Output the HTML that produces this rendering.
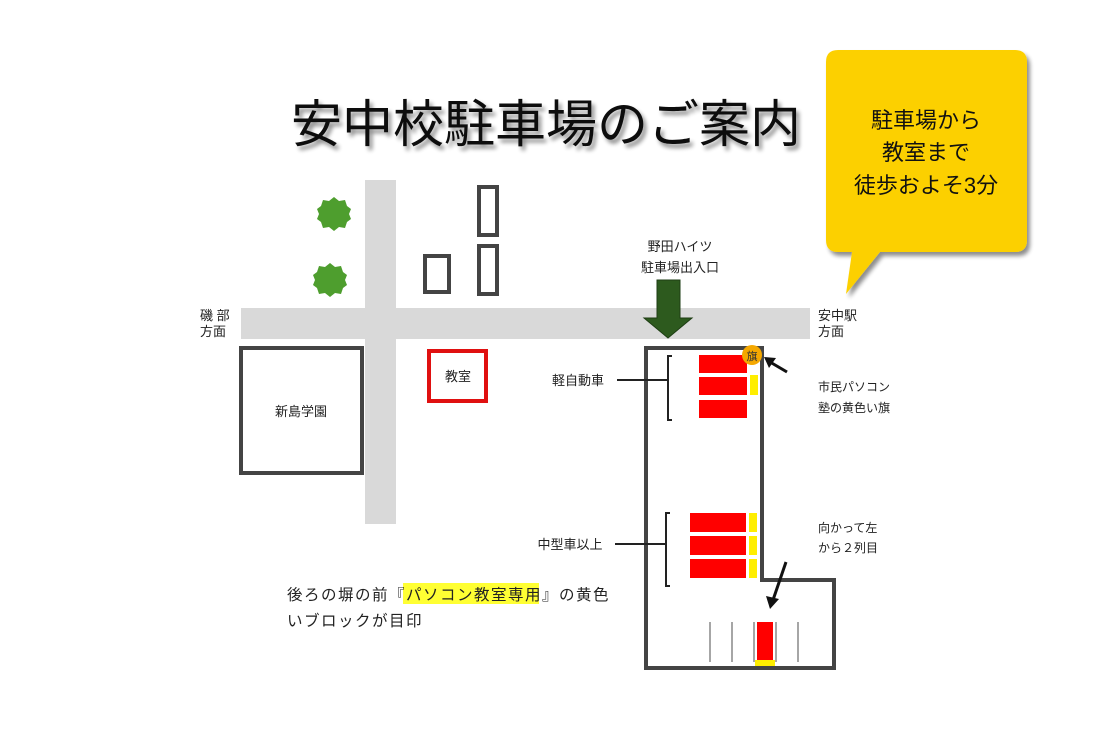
<!DOCTYPE html>
<html><head><meta charset="utf-8"><style>
html,body{margin:0;padding:0;background:#fff;}
svg{display:block;}
text{font-family:"Liberation Sans","Noto Sans CJK JP",sans-serif;fill:#222;}
</style></head><body>
<svg width="1094" height="736" viewBox="0 0 1094 736" xmlns="http://www.w3.org/2000/svg">
<defs>
<filter id="sh" x="-10%" y="-10%" width="130%" height="140%"><feGaussianBlur in="SourceAlpha" stdDeviation="2"/><feOffset dx="3" dy="4"/><feComponentTransfer><feFuncA type="linear" slope="0.45"/></feComponentTransfer><feMerge><feMergeNode/><feMergeNode in="SourceGraphic"/></feMerge></filter>
</defs>
<!-- title -->
<text x="546" y="142" font-size="51" text-anchor="middle" style="fill:#111" filter="url(#sh)">安中校駐車場のご案内</text>
<!-- bubble -->
<g filter="url(#sh)">
<path d="M838,50 H1015 Q1027,50 1027,62 V240 Q1027,252 1015,252 H880 L846,294 L852,252 H838 Q826,252 826,240 V62 Q826,50 838,50 Z" fill="#fcd000"/>
</g>
<text x="926" y="128" font-size="22" text-anchor="middle" style="fill:#111">駐車場から</text>
<text x="926" y="160" font-size="22" text-anchor="middle" style="fill:#111">教室まで</text>
<text x="926" y="193" font-size="22" text-anchor="middle" style="fill:#111">徒歩およそ3分</text>
<!-- roads -->
<rect x="365" y="180" width="31" height="344" fill="#d9d9d9"/>
<rect x="241" y="308" width="569" height="31" fill="#d9d9d9"/>
<!-- trees -->
<polygon points="334,197 339,201 345,200 347,206 351,209 349,214 351,219 347,222 345,228 339,227 334,231 329,227 323,228 321,222 317,219 319,214 317,209 321,206 323,200 329,201" fill="#4e9e2e"/>
<polygon points="330,263 335,267 341,266 343,272 347,275 345,280 347,285 343,288 341,294 335,293 330,297 325,293 319,294 317,288 313,285 315,280 313,275 317,272 319,266 325,267" fill="#4e9e2e"/>
<!-- buildings -->
<g fill="none" stroke="#444" stroke-width="4">
<rect x="479" y="187" width="18" height="48"/>
<rect x="479" y="246" width="18" height="48"/>
<rect x="425" y="256" width="24" height="36"/>
<rect x="241" y="348" width="121" height="125"/>
</g>
<rect x="429" y="351" width="57" height="50" fill="none" stroke="#e01010" stroke-width="4"/>
<text x="301" y="416" font-size="13" text-anchor="middle">新島学園</text>
<text x="458" y="381" font-size="13" text-anchor="middle">教室</text>
<text x="200" y="320" font-size="13">磯 部</text>
<text x="200" y="336" font-size="13">方面</text>
<text x="818" y="320" font-size="13">安中駅</text>
<text x="818" y="336" font-size="13">方面</text>
<!-- entrance arrow -->
<text x="680" y="251" font-size="13" text-anchor="middle">野田ハイツ</text>
<text x="680" y="272" font-size="13" text-anchor="middle">駐車場出入口</text>
<polygon points="657,280 680,280 680,318 692,318 668,338 644,318 657,318" fill="#2d5a1e" stroke="#1e3d14" stroke-width="1"/>
<!-- parking lot -->
<polygon points="646,348 762,348 762,580 834,580 834,668 646,668" fill="none" stroke="#444" stroke-width="4"/>
<g fill="#f00">
<rect x="699" y="355" width="48" height="18"/>
<rect x="699" y="377" width="48" height="18"/>
<rect x="699" y="400" width="48" height="18"/>
<rect x="690" y="513" width="56" height="19"/>
<rect x="690" y="536" width="56" height="19"/>
<rect x="690" y="559" width="56" height="19"/>
<rect x="757" y="622" width="16" height="38"/>
</g>
<g fill="#ffee00">
<rect x="750" y="375" width="8" height="20"/>
<rect x="749" y="513" width="8" height="19"/>
<rect x="749" y="536" width="8" height="19"/>
<rect x="749" y="559" width="8" height="19"/>
<rect x="755" y="660" width="20" height="6"/>
</g>
<g stroke="#888" stroke-width="1.5">
<line x1="710" y1="622" x2="710" y2="662"/>
<line x1="732" y1="622" x2="732" y2="662"/>
<line x1="754" y1="622" x2="754" y2="662"/>
<line x1="776" y1="622" x2="776" y2="662"/>
<line x1="798" y1="622" x2="798" y2="662"/>
</g>
<circle cx="752" cy="355" r="10" fill="#f5a800"/>
<text x="752" y="360" font-size="11" text-anchor="middle" style="fill:#333">旗</text>
<!-- brackets -->
<g fill="none" stroke="#222" stroke-width="2">
<path d="M672,356 H668 V420 H672"/>
<line x1="617" y1="380" x2="668" y2="380"/>
<path d="M670,513 H666 V586 H670"/>
<line x1="615" y1="544" x2="666" y2="544"/>
</g>
<text x="578" y="385" font-size="13" text-anchor="middle">軽自動車</text>
<text x="570" y="549" font-size="13" text-anchor="middle">中型車以上</text>
<!-- arrows -->
<line x1="787" y1="372" x2="770" y2="362" stroke="#111" stroke-width="3"/>
<polygon points="764,357 776,358 769,368" fill="#111"/>
<line x1="786" y1="562" x2="773" y2="600" stroke="#111" stroke-width="3"/>
<polygon points="770,609 766,596 779,599" fill="#111"/>
<text x="818" y="391" font-size="12">市民パソコン</text>
<text x="818" y="412" font-size="12">塾の黄色い旗</text>
<text x="818" y="532" font-size="12">向かって左</text>
<text x="818" y="552" font-size="12">から２列目</text>
<!-- bottom text -->
<rect x="403" y="583" width="136" height="21" fill="#ffff33"/>
<text x="287" y="600" font-size="15.5" letter-spacing="1.5">後ろの塀の前『パソコン教室専用』の黄色</text>
<text x="287" y="626" font-size="15.5" letter-spacing="1.5">いブロックが目印</text>
</svg>
</body></html>
